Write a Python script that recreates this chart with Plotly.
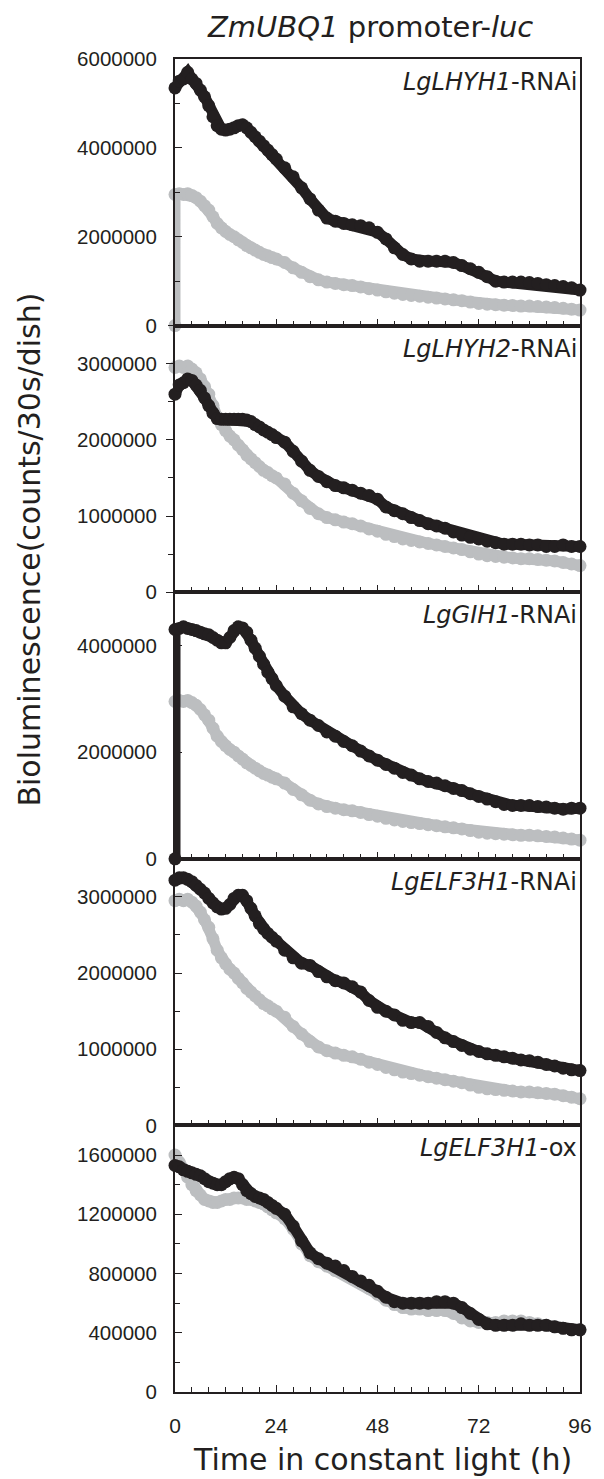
import plotly.graph_objects as go
from plotly.subplots import make_subplots

# ---------------- data ----------------
HOURS = [0, 1, 2, 3, 4, 5, 6, 7, 8, 9, 10, 11, 12, 13, 14, 15, 16, 17, 18, 19, 20, 21, 22, 23,
         24, 26, 28, 30, 32, 34, 36, 38, 40, 42, 44, 46, 48, 50, 52, 54, 56, 58, 60, 62, 64, 66,
         68, 70, 72, 74, 76, 78, 80, 82, 84, 86, 88, 90, 92, 94, 96]

START_H = [0]
START_V = [0]

CONTROL = [2.95e6, 2.97e6, 2.95e6, 2.97e6, 2.93e6, 2.88e6, 2.8e6, 2.7e6, 2.6e6, 2.45e6, 2.3e6, 2.2e6,
           2.12e6, 2.05e6, 2.0e6, 1.93e6, 1.87e6, 1.8e6, 1.75e6, 1.7e6, 1.65e6, 1.6e6, 1.57e6, 1.53e6,
           1.5e6, 1.42e6, 1.3e6, 1.2e6, 1.1e6, 1.03e6, 0.98e6, 0.95e6, 0.92e6, 0.9e6, 0.87e6, 0.83e6,
           0.8e6, 0.76e6, 0.73e6, 0.7e6, 0.68e6, 0.66e6, 0.64e6, 0.62e6, 0.6e6, 0.58e6, 0.56e6, 0.53e6,
           0.5e6, 0.48e6, 0.47e6, 0.46e6, 0.45e6, 0.44e6, 0.44e6, 0.43e6, 0.42e6, 0.41e6, 0.39e6, 0.37e6,
           0.35e6]

LHYH1 = [5.35e6, 5.5e6, 5.55e6, 5.7e6, 5.55e6, 5.45e6, 5.3e6, 5.15e6, 4.95e6, 4.7e6, 4.5e6, 4.42e6,
         4.4e6, 4.42e6, 4.45e6, 4.5e6, 4.52e6, 4.45e6, 4.35e6, 4.25e6, 4.15e6, 4.05e6, 3.95e6, 3.85e6,
         3.75e6, 3.55e6, 3.35e6, 3.1e6, 2.85e6, 2.6e6, 2.42e6, 2.35e6, 2.3e6, 2.27e6, 2.25e6, 2.2e6,
         2.1e6, 1.95e6, 1.75e6, 1.6e6, 1.5e6, 1.45e6, 1.45e6, 1.45e6, 1.45e6, 1.42e6, 1.35e6, 1.28e6,
         1.2e6, 1.1e6, 1.0e6, 0.98e6, 0.98e6, 0.98e6, 0.97e6, 0.95e6, 0.92e6, 0.9e6, 0.88e6, 0.85e6,
         0.8e6]

LHYH2 = [2.6e6, 2.72e6, 2.75e6, 2.8e6, 2.78e6, 2.72e6, 2.65e6, 2.55e6, 2.45e6, 2.35e6, 2.28e6, 2.27e6,
         2.27e6, 2.27e6, 2.27e6, 2.27e6, 2.27e6, 2.26e6, 2.24e6, 2.2e6, 2.17e6, 2.13e6, 2.1e6, 2.07e6,
         2.03e6, 1.97e6, 1.85e6, 1.72e6, 1.6e6, 1.52e6, 1.45e6, 1.4e6, 1.37e6, 1.34e6, 1.3e6, 1.27e6,
         1.22e6, 1.12e6, 1.07e6, 1.03e6, 0.98e6, 0.94e6, 0.9e6, 0.87e6, 0.84e6, 0.79e6, 0.75e6, 0.72e6,
         0.7e6, 0.67e6, 0.65e6, 0.63e6, 0.63e6, 0.63e6, 0.62e6, 0.62e6, 0.6e6, 0.6e6, 0.62e6, 0.6e6,
         0.6e6]

GIH1 = [4.3e6, 4.32e6, 4.35e6, 4.32e6, 4.3e6, 4.28e6, 4.25e6, 4.22e6, 4.2e6, 4.15e6, 4.1e6, 4.05e6,
        4.05e6, 4.15e6, 4.28e6, 4.35e6, 4.33e6, 4.25e6, 4.1e6, 3.95e6, 3.8e6, 3.65e6, 3.5e6, 3.38e6,
        3.25e6, 3.05e6, 2.85e6, 2.72e6, 2.6e6, 2.5e6, 2.38e6, 2.3e6, 2.2e6, 2.12e6, 2.02e6, 1.93e6,
        1.85e6, 1.77e6, 1.7e6, 1.62e6, 1.57e6, 1.5e6, 1.45e6, 1.42e6, 1.37e6, 1.32e6, 1.28e6, 1.22e6,
        1.17e6, 1.12e6, 1.07e6, 1.02e6, 1.0e6, 1.0e6, 1.0e6, 0.98e6, 0.97e6, 0.95e6, 0.93e6, 0.95e6,
        0.95e6]

ELF3H1_RNAI = [3.22e6, 3.25e6, 3.25e6, 3.23e6, 3.2e6, 3.15e6, 3.1e6, 3.05e6, 2.98e6, 2.92e6, 2.87e6, 2.84e6,
               2.85e6, 2.9e6, 2.98e6, 3.02e6, 3.02e6, 2.95e6, 2.85e6, 2.75e6, 2.65e6, 2.58e6, 2.52e6, 2.47e6,
               2.42e6, 2.3e6, 2.2e6, 2.13e6, 2.1e6, 2.02e6, 1.95e6, 1.9e6, 1.87e6, 1.82e6, 1.75e6, 1.64e6,
               1.55e6, 1.5e6, 1.45e6, 1.38e6, 1.35e6, 1.35e6, 1.3e6, 1.22e6, 1.15e6, 1.1e6, 1.05e6, 1.0e6,
               0.97e6, 0.94e6, 0.92e6, 0.9e6, 0.88e6, 0.86e6, 0.85e6, 0.83e6, 0.8e6, 0.78e6, 0.75e6, 0.73e6,
               0.72e6]

OX_CONTROL = [1.6e6, 1.55e6, 1.5e6, 1.45e6, 1.4e6, 1.36e6, 1.33e6, 1.3e6, 1.29e6, 1.28e6, 1.28e6, 1.29e6,
              1.3e6, 1.3e6, 1.31e6, 1.31e6, 1.31e6, 1.3e6, 1.3e6, 1.29e6, 1.28e6, 1.27e6, 1.25e6, 1.23e6,
              1.21e6, 1.17e6, 1.1e6, 1.0e6, 0.92e6, 0.88e6, 0.85e6, 0.82e6, 0.8e6, 0.77e6, 0.74e6, 0.7e6,
              0.66e6, 0.62e6, 0.59e6, 0.57e6, 0.56e6, 0.56e6, 0.55e6, 0.55e6, 0.55e6, 0.53e6, 0.5e6, 0.48e6,
              0.47e6, 0.47e6, 0.47e6, 0.48e6, 0.48e6, 0.48e6, 0.47e6, 0.46e6, 0.45e6, 0.44e6, 0.43e6, 0.42e6,
              0.42e6]

ELF3H1_OX = [1.53e6, 1.52e6, 1.5e6, 1.49e6, 1.48e6, 1.47e6, 1.46e6, 1.44e6, 1.42e6, 1.41e6, 1.4e6, 1.4e6,
             1.42e6, 1.44e6, 1.45e6, 1.44e6, 1.4e6, 1.36e6, 1.34e6, 1.32e6, 1.31e6, 1.3e6, 1.28e6, 1.26e6,
             1.24e6, 1.2e6, 1.12e6, 1.02e6, 0.94e6, 0.9e6, 0.87e6, 0.85e6, 0.82e6, 0.78e6, 0.75e6, 0.72e6,
             0.68e6, 0.64e6, 0.61e6, 0.6e6, 0.6e6, 0.6e6, 0.6e6, 0.61e6, 0.61e6, 0.6e6, 0.57e6, 0.53e6,
             0.49e6, 0.46e6, 0.45e6, 0.45e6, 0.45e6, 0.46e6, 0.45e6, 0.45e6, 0.45e6, 0.44e6, 0.43e6, 0.42e6,
             0.42e6]

PANEL_LABELS = ["<i>LgLHYH1</i>-RNAi", "<i>LgLHYH2</i>-RNAi", "<i>LgGIH1</i>-RNAi",
                "<i>LgELF3H1</i>-RNAi", "<i>LgELF3H1</i>-ox"]
Y_RANGES = [[0, 6e6], [0, 3.5e6], [0, 5e6], [0, 3.5e6], [0, 1.8e6]]
Y_DTICK = [2e6, 1e6, 2e6, 1e6, 4e5]
X_TICKS = [0, 24, 48, 72, 96]

# (grey x, grey y, black x, black y) per panel
PANELS = [
    (START_H + HOURS, START_V + CONTROL, HOURS, LHYH1),
    (HOURS, CONTROL, HOURS, LHYH2),
    (HOURS, CONTROL, START_H + HOURS, START_V + GIH1),
    (HOURS, CONTROL, HOURS, ELF3H1_RNAI),
    (HOURS, OX_CONTROL, HOURS, ELF3H1_OX),
]

BLACK = "#231f20"
GREY = "#bcbec0"
FONT = "Liberation Sans, Arial, sans-serif"
TFONT = "DejaVu Sans, Liberation Sans, sans-serif"

fig = make_subplots(rows=5, cols=1, shared_xaxes=True, vertical_spacing=0)

for i, (gx, gy, bx, by) in enumerate(PANELS):
    r = i + 1
    fig.add_trace(go.Scatter(x=gx, y=gy, mode="lines+markers",
                             line=dict(color=GREY, width=11),
                             marker=dict(color=GREY, size=13),
                             cliponaxis=False, showlegend=False), row=r, col=1)
    fig.add_trace(go.Scatter(x=bx, y=by, mode="lines+markers",
                             line=dict(color=BLACK, width=11),
                             marker=dict(color=BLACK, size=13),
                             cliponaxis=False, showlegend=False), row=r, col=1)
    fig.update_yaxes(range=Y_RANGES[i], dtick=Y_DTICK[i], tick0=0, tickformat="d",
                     ticks=("outside" if r == 2 else "inside"), ticklen=7, tickwidth=1.2,
                     tickcolor=BLACK,
                     minor=dict(dtick=Y_DTICK[i] / 2, ticks=("outside" if r == 2 else "inside"),
                                ticklen=5, tickwidth=1, tickcolor=BLACK),
                     showline=True, linecolor=BLACK, linewidth=2, mirror=True,
                     showgrid=False, zeroline=False, ticklabelstandoff=(5 if r == 2 else 12),
                     tickfont=dict(family=FONT, size=20.5, color=BLACK),
                     row=r, col=1)
    fig.update_xaxes(range=[0, 96], tickvals=X_TICKS, ticks="inside", ticklen=7,
                     tickwidth=1.2, tickcolor=BLACK,
                     minor=dict(dtick=4, tick0=0, ticks="inside", ticklen=5,
                                tickwidth=1, tickcolor=BLACK),
                     showline=True, linecolor=BLACK, linewidth=2, mirror=True,
                     showgrid=False, zeroline=False,
                     showticklabels=(r == 5), ticklabelstandoff=14,
                     tickfont=dict(family=FONT, size=21, color=BLACK),
                     row=r, col=1)
    yref = "y domain" if r == 1 else f"y{r} domain"
    xref = "x domain" if r == 1 else f"x{r} domain"
    fig.add_annotation(text=PANEL_LABELS[i], xref=xref, yref=yref, x=0.997, y=1,
                       xanchor="right", yanchor="middle", yshift=-23, showarrow=False,
                       font=dict(family=TFONT, size=24, color=BLACK))

fig.add_annotation(text="<i>ZmUBQ1</i> promoter-<i>luc</i>", xref="paper", yref="paper",
                   x=0.482, y=1.024, xanchor="center", yanchor="middle", showarrow=False,
                   font=dict(family=TFONT, size=29, color=BLACK))
fig.add_annotation(text="Time in constant light (h)", xref="paper", yref="paper",
                   x=0.513, y=-0.051, xanchor="center", yanchor="middle", showarrow=False,
                   font=dict(family=TFONT, size=30, color=BLACK))
fig.add_annotation(text="Bioluminescence(counts/30s/dish)", xref="paper", yref="paper",
                   x=-0.358, y=0.632, xanchor="center", yanchor="middle", textangle=-90,
                   showarrow=False, font=dict(family=TFONT, size=30, color=BLACK))

fig.update_layout(width=604, height=1479, margin=dict(l=175, r=16, t=59, b=87),
                  paper_bgcolor="white", plot_bgcolor="white")

fig.write_html("out.html", config={"displayModeBar": False},
               post_script="document.body.style.margin='0';")
